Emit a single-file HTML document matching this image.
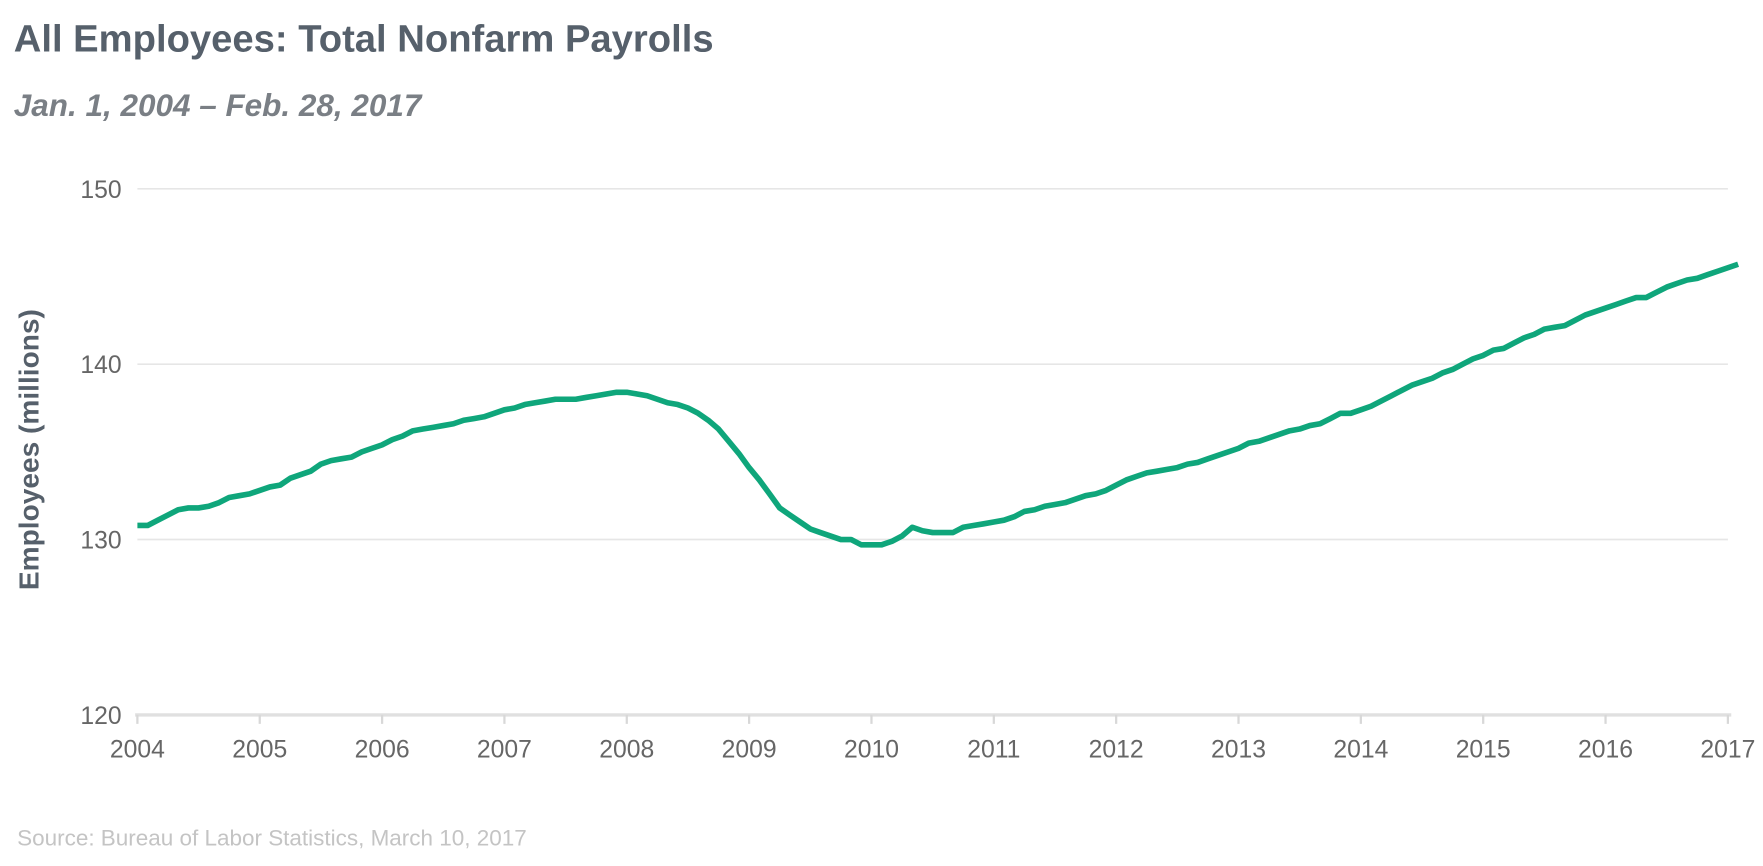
<!DOCTYPE html>
<html><head><meta charset="utf-8">
<style>
body{margin:0;background:#fff;width:1763px;height:861px;overflow:hidden;font-family:"Liberation Sans",sans-serif}
</style></head>
<body>
<svg width="1763" height="861" viewBox="0 0 1568 766" xmlns="http://www.w3.org/2000/svg">
<text x="12" y="46" font-size="34" font-weight="bold" fill="#56606b">All Employees: Total Nonfarm Payrolls</text>
<text x="12" y="103" font-size="28" font-style="italic" font-weight="bold" fill="#7a7f85">Jan. 1, 2004 – Feb. 28, 2017</text>
<text x="15" y="752" font-size="20" fill="#c4c4c4">Source: Bureau of Labor Statistics, March 10, 2017</text>
<text transform="translate(34,400) rotate(-90)" text-anchor="middle" font-size="25" font-weight="bold" fill="#56606b">Employees (millions)</text>
<g id="grid"></g><g id="xaxis"></g>
<path id="line" fill="none" stroke="#0fa67b" stroke-width="5" stroke-linejoin="round"/>
</svg>
<script>
const yTicks=[120,130,140,150];
const xTicks=[2004,2005,2006,2007,2008,2009,2010,2011,2012,2013,2014,2015,2016,2017];
const values=[130.8,130.8,131.1,131.4,131.7,131.8,131.8,131.9,132.1,132.4,132.5,132.6,
132.8,133.0,133.1,133.5,133.7,133.9,134.3,134.5,134.6,134.7,135.0,135.2,
135.4,135.7,135.9,136.2,136.3,136.4,136.5,136.6,136.8,136.9,137.0,137.2,
137.4,137.5,137.7,137.8,137.9,138.0,138.0,138.0,138.1,138.2,138.3,138.4,
138.4,138.3,138.2,138.0,137.8,137.7,137.5,137.2,136.8,136.3,135.6,134.9,
134.1,133.4,132.6,131.8,131.4,131.0,130.6,130.4,130.2,130.0,130.0,129.7,
129.7,129.7,129.9,130.2,130.7,130.5,130.4,130.4,130.4,130.7,130.8,130.9,
131.0,131.1,131.3,131.6,131.7,131.9,132.0,132.1,132.3,132.5,132.6,132.8,
133.1,133.4,133.6,133.8,133.9,134.0,134.1,134.3,134.4,134.6,134.8,135.0,
135.2,135.5,135.6,135.8,136.0,136.2,136.3,136.5,136.6,136.9,137.2,137.2,
137.4,137.6,137.9,138.2,138.5,138.8,139.0,139.2,139.5,139.7,140.0,140.3,
140.5,140.8,140.9,141.2,141.5,141.7,142.0,142.1,142.2,142.5,142.8,143.0,
143.2,143.4,143.6,143.8,143.8,144.1,144.4,144.6,144.8,144.9,145.1,145.3,
145.5,145.7];
const NS="http://www.w3.org/2000/svg";
const x=t=>122+(t-2004)*(1537-122)/13;
const y=v=>636-(v-120)*15.6;
function mk(tag,attrs,parent){const e=document.createElementNS(NS,tag);for(const k in attrs)e.setAttribute(k,attrs[k]);parent.appendChild(e);return e;}
const grid=document.getElementById('grid'),xa=document.getElementById('xaxis');
yTicks.forEach(v=>{
 if(v>120){const l=mk('line',{x1:122,x2:1537,y1:y(v),y2:y(v),stroke:'#e6e6e6','stroke-width':1.5},grid);
 
 }
 const t=mk('text',{x:108,y:y(v)+8,'text-anchor':'end','font-size':22,fill:'#666'},grid);t.textContent=v;
 
 
});
const base=mk('line',{x1:120,x2:1540,y1:636,y2:636,stroke:'#e0e0e0','stroke-width':3},xa);


xTicks.forEach(yr=>{
 mk('line',{x1:x(yr),x2:x(yr),y1:636,y2:644,stroke:'#d8d8d8','stroke-width':2},xa);
 const t=mk('text',{x:x(yr),y:674,'text-anchor':'middle','font-size':22,fill:'#666'},xa);t.textContent=yr;
 
 
});
document.getElementById('line').setAttribute('d',values.map((v,i)=>(i?'L':'M')+x(2004+i/12).toFixed(1)+','+y(v).toFixed(1)).join(''));
</script>
</body></html>
